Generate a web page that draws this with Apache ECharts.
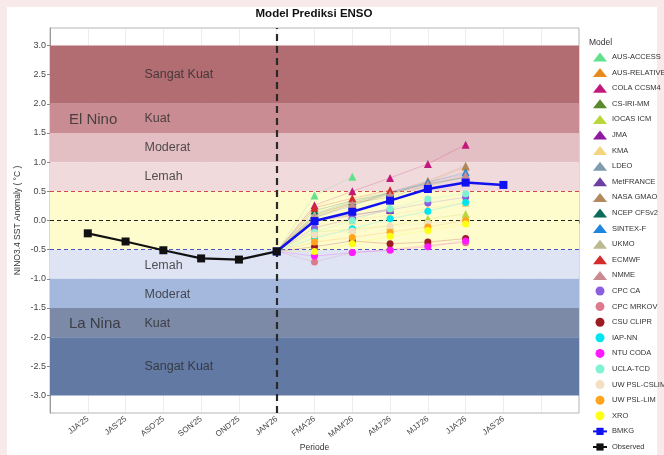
<!DOCTYPE html>
<html><head><meta charset="utf-8">
<script src="https://cdn.jsdelivr.net/npm/echarts@6/dist/echarts.min.js"></script>
<style>
html,body{margin:0;padding:0;background:#f8e9eb;}
#wrap{position:absolute;left:7px;top:7px;width:650px;height:448px;background:#fff;}
#c{position:absolute;left:-7px;top:-7px;width:664px;height:455px;}
</style></head>
<body><div id="wrap"><div id="c"></div></div>
<script>
// ---- data ----
const periods = ["JJA'25","JAS'25","ASO'25","SON'25","OND'25","JAN'26","FMA'26","MAM'26","AMJ'26","MJJ'26","JJA'26","JAS'26"];
const observed = [-0.22,-0.36,-0.51,-0.65,-0.67,-0.53];          // JJA'25 .. JAN'26
const bmkg = [-0.53,-0.01,0.15,0.34,0.54,0.65,0.61];               // JAN'26 .. JAS'26
const modelNames = ["AUS-ACCESS","AUS-RELATIVE","COLA CCSM4","CS-IRI-MM","IOCAS ICM","JMA","KMA","LDEO","MetFRANCE","NASA GMAO","NCEP CFSv2","SINTEX-F","UKMO","ECMWF","NMME",
  "CPC CA","CPC MRKOV","CSU CLIPR","IAP-NN","NTU CODA","UCLA-TCD","UW PSL-CSLIM","UW PSL-LIM","XRO"];
const modelShapes = ["triangle","triangle","triangle","triangle","triangle","triangle","triangle","triangle","triangle","triangle","triangle","triangle","triangle","triangle","triangle",
  "circle","circle","circle","circle","circle","circle","circle","circle","circle"];
const modelColors = ["#62e08c","#e88b1c","#c2187c","#5b8a2c","#b8d83a","#8e1aa0","#f3d57e","#7f9cae","#6b40a0","#b08a5e","#0d6b5a","#1f86e0","#bab98f","#d62a2a","#c98b90",
  "#8a5fe0","#de7a8e","#9c1c24","#00e6f0","#ff1aff","#80f2d2","#f3e0c2","#ffa41c","#ffff14"];
// forecasts FMA'26, MAM'26, AMJ'26, MJJ'26, JJA'26 (null = no value)
const modelValues = [
  [0.43,0.75,null,null,null],
  [0.05,0.28,0.45,0.65,0.92],
  [0.26,0.50,0.73,0.97,1.30],
  [0.10,0.30,0.40,0.60,0.75],
  [-0.20,-0.15,-0.09,0.03,0.11],
  [0.00,0.08,0.20,null,null],
  [-0.10,0.00,0.10,0.20,0.30],
  [0.12,0.32,0.45,0.66,0.80],
  [0.02,0.10,0.18,null,null],
  [0.08,0.30,0.48,0.68,0.94],
  [0.17,0.34,0.47,0.63,0.74],
  [0.05,0.25,0.49,0.65,0.83],
  [0.10,0.35,0.50,null,null],
  [0.22,0.38,0.52,null,null],
  [0.06,0.28,0.44,0.62,0.78],
  [-0.13,0.04,0.18,0.30,0.40],
  [-0.71,-0.55,-0.50,-0.42,-0.38],
  [-0.45,-0.35,-0.40,-0.37,-0.31],
  [-0.30,-0.14,0.03,0.16,0.31],
  [-0.61,-0.55,-0.51,-0.45,-0.35],
  [-0.20,0.00,0.20,0.37,0.46],
  [-0.25,-0.18,-0.10,-0.05,0.00],
  [-0.37,-0.29,-0.20,-0.11,0.00],
  [-0.53,-0.40,-0.27,-0.17,-0.06]
];
const yTicks = [3.0,2.5,2.0,1.5,1.0,0.5,0.0,-0.5,-1.0,-1.5,-2.0,-2.5,-3.0];
const bandFrom = [2.0,1.5,1.0,0.5,-0.5,-0.5,-1.0,-1.5,-2.0];
const bandTo   = [3.0,2.0,1.5,1.0,0.5,-1.0,-1.5,-2.0,-3.0];
const bandColors = ["#b26d73","#c98c92","#e3bfc3","#f0dadc","#fefbcd","#dee4f4","#a4b8de","#7c8aa7","#6279a4"];
const bandLabels = ["Sangat Kuat","Kuat","Moderat","Lemah","Lemah","Moderat","Kuat","Sangat Kuat"];
const bandLabelY = [2.5,1.75,1.25,0.75,-0.77,-1.27,-1.77,-2.5];
const phaseLabels = ["El Nino","La Nina"];
const phaseLabelY = [1.73,-1.77];
const thresholds = [0.5,0.0,-0.5];
const thresholdColors = ["#d04a4a","#222222","#4a55c8"];
const forecastStart = 6; // JAN'26 position

// ---- build ----
const FONT = "Liberation Sans";
const chart = echarts.init(document.getElementById('c'), null, {renderer:'canvas'});
const xOf = i => i + 1;

const series = [];
series.push({
  type:'line', name:'_bands', data:[[0,0]], symbol:'none', lineStyle:{opacity:0}, silent:true, z:-1,
  markArea:{silent:true, data: bandFrom.map((f,i)=>[
    {yAxis:f, itemStyle:{color:bandColors[i]}}, {yAxis:bandTo[i]}
  ])}
});
series.push({
  type:'scatter', name:'_labels', symbolSize:0, silent:true, z:3,
  data: bandLabels.map((t,i)=>({name:t, value:[2.5, bandLabelY[i]]})),
  label:{show:true, position:'right', distance:0, formatter:'{b}', fontFamily:FONT, fontSize:12.5, color:'#2b2b2b'}
});
series.push({
  type:'scatter', name:'_phase', symbolSize:0, silent:true, z:3,
  data: phaseLabels.map((t,i)=>({name:t, value:[0.5, phaseLabelY[i]]})),
  label:{show:true, position:'right', distance:0, formatter:'{b}', fontFamily:FONT, fontSize:15, color:'#2b2b2b'}
});
series.push({
  type:'line', name:'_lines', data:[[0,0]], symbol:'none', lineStyle:{opacity:0}, silent:true, z:4,
  markLine:{silent:true, symbol:'none', label:{show:false}, animation:false,
    data: thresholds.map((v,i)=>({yAxis:v, lineStyle:{color:thresholdColors[i], type:[4,3], width:1}}))
      .concat([{xAxis:forecastStart, lineStyle:{color:'#2a2a2a', type:[7,5], width:2.2}}])
  }
});
modelNames.forEach((n,i)=>{
  const d = [{value:[forecastStart, observed[observed.length-1]], symbol:'none'}];
  modelValues[i].forEach((v,j)=>{ if(v!==null) d.push({value:[forecastStart+1+j, v]}); });
  series.push({
    type:'line', name:n, data:d, symbol:modelShapes[i], symbolSize: modelShapes[i]==='triangle'?8:7,
    itemStyle:{color:modelColors[i]}, lineStyle:{color:modelColors[i], width:1, opacity:0.22}, z:5
  });
});
series.push({
  type:'line', name:'BMKG', data:bmkg.map((v,j)=>[forecastStart+j, v]), symbol:'rect', symbolSize:8,
  itemStyle:{color:'#1010f0'}, lineStyle:{color:'#1010f0', width:2.5}, z:8
});
series.push({
  type:'line', name:'Observed', data:observed.map((v,j)=>[xOf(j), v]), symbol:'rect', symbolSize:8,
  itemStyle:{color:'#111'}, lineStyle:{color:'#111', width:2.2}, z:9
});

const legendData = modelNames.map((n,i)=>({name:n, icon:modelShapes[i]})).concat([{name:'BMKG'},{name:'Observed'}]);

chart.setOption({
  animation:false,
  backgroundColor:'transparent',
  textStyle:{fontFamily:FONT},
  grid:{left:50, right:85, top:28, bottom:42, show:true, borderColor:'#b5b5b5', borderWidth:1, containLabel:false, outerBoundsMode:'none'},
  graphic:[
    {type:'text', x:314, y:14, style:{text:'Model Prediksi ENSO', font:'bold 11.5px "Liberation Sans"', fill:'#111', textAlign:'center', textVerticalAlign:'middle'}},
    {type:'text', left:589, top:38, style:{text:'Model', font:'8.5px "Liberation Sans"', fill:'#333'}}
  ],
  legend:{
    data:legendData, orient:'vertical', left:592, top:52.5, padding:0, itemWidth:14, itemHeight:9, itemGap:6.6,
    textStyle:{fontFamily:FONT, fontSize:7.5, color:'#333', lineHeight:9}, selectedMode:false
  },
  xAxis:{
    type:'value', min:0, max:14, interval:1,
    name:'Periode', nameLocation:'middle', nameGap:30, nameMoveOverlap:false, nameTextStyle:{fontFamily:FONT, fontSize:8.5, color:'#333'},
    axisLine:{show:true, lineStyle:{color:'#9a9a9a'}},
    axisTick:{show:true, length:3, lineStyle:{color:'#888'}},
    axisLabel:{formatter:v=> (v>=1 && v<=periods.length) ? periods[v-1] : '', rotate:38, fontSize:8, color:'#444', margin:5, fontFamily:FONT},
    splitLine:{show:true, lineStyle:{color:'rgba(215,215,215,0.45)', width:1}}
  },
  yAxis:{
    type:'value', min:-3.3, max:3.3,
    name:'NINO3.4 SST Anomaly ( °C )', nameLocation:'middle', nameGap:28, nameMoveOverlap:false, nameTextStyle:{fontFamily:FONT, fontSize:8.5, color:'#333'},
    axisLine:{show:true, lineStyle:{color:'#9a9a9a'}},
    axisTick:{show:true, length:3, customValues:yTicks, lineStyle:{color:'#888'}},
    axisLabel:{customValues:yTicks, formatter:v=>v.toFixed(1), fontSize:9, color:'#444', margin:4, fontFamily:FONT},
    splitLine:{show:false}
  },
  series:series
});
</script></body></html>
